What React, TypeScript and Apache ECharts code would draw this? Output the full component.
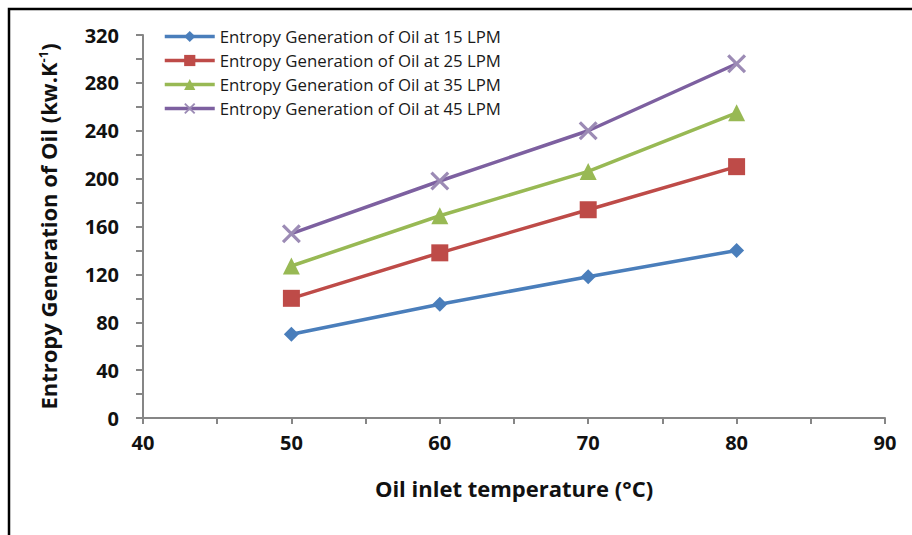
import React, { useEffect, useRef } from "react";
import * as echarts from "echarts";

const temperatures = [50, 60, 70, 80];
const seriesNames = [
  "Entropy Generation of Oil at 15 LPM",
  "Entropy Generation of Oil at 25 LPM",
  "Entropy Generation of Oil at 35 LPM",
  "Entropy Generation of Oil at 45 LPM",
];
const lpm15 = [70, 95, 118, 140];
const lpm25 = [100, 138, 174, 210];
const lpm35 = [127, 169, 206, 255];
const lpm45 = [154, 198, 240, 296];
const seriesValues = [lpm15, lpm25, lpm35, lpm45];
const colors = ["#4A7EBB", "#BE4B48", "#98B954", "#7D60A0"];
const markerColors = ["#4A7EBB", "#BE4B48", "#98B954", "#9C8BB5"];
const symbols = [
  "diamond",
  "rect",
  "triangle",
  "path://M0,1.2L1.2,0L10,8.8L8.8,10ZM8.8,0L10,1.2L1.2,10L0,8.8Z",
];
const symbolSizes = [15, 17, 17, 19];

export default function App() {
  const ref = useRef<HTMLDivElement>(null);
  useEffect(() => {
    if (!ref.current) return;
    const chart = echarts.init(ref.current, undefined, { renderer: "svg" });
    const font = "'Open Sans', Lato, sans-serif";
    chart.setOption({
      animation: false,
      backgroundColor: "#ffffff",
      textStyle: { fontFamily: font },
      graphic: [
        {
          type: "rect",
          shape: { x: 9, y: 9, width: 1000, height: 1000 },
          style: { fill: "none", stroke: "#000", lineWidth: 2.5 },
          silent: true,
        },
      ],
      legend: {
        left: 163,
        top: 28,
        padding: 0,
        orient: "vertical",
        itemWidth: 50,
        itemHeight: 14,
        itemGap: 7,
        lineStyle: { width: 3.5 },
        textStyle: { fontSize: 16.8, lineHeight: 14, color: "#1a1a1a", fontFamily: font },
        data: seriesNames,
      },
      grid: { left: 143, right: 27, top: 35, bottom: 117 },
      xAxis: {
        type: "value",
        min: 40,
        max: 90,
        interval: 10,
        name: "Oil inlet temperature (°C)",
        nameLocation: "middle",
        nameGap: 59,
        nameTextStyle: { fontSize: 22, fontWeight: "bold", color: "#111", fontFamily: font },
        axisLine: { lineStyle: { color: "#868686", width: 2 } },
        axisTick: { show: true, length: 6, lineStyle: { color: "#868686", width: 2 } },
        minorTick: { show: true, splitNumber: 2, length: 6, lineStyle: { color: "#868686", width: 2 } },
        splitLine: { show: false },
        axisLabel: { fontSize: 20, fontWeight: "bold", color: "#111", margin: 14, fontFamily: font },
      },
      yAxis: {
        type: "value",
        min: 0,
        max: 320,
        interval: 40,
        name: "Entropy Generation of Oil (kw.K{sup|-1})",
        nameLocation: "middle",
        nameGap: 84,
        nameTextStyle: {
          fontSize: 22,
          fontWeight: "bold",
          color: "#111",
          fontFamily: font,
          rich: {
            sup: { fontSize: 13, fontWeight: "bold", color: "#111", fontFamily: font, verticalAlign: "top", padding: [0, 0, 10, 0] },
          },
        },
        axisLine: { show: true, lineStyle: { color: "#868686", width: 2 } },
        axisTick: { show: true, length: 7, lineStyle: { color: "#868686", width: 2 } },
        minorTick: { show: true, splitNumber: 2, length: 7, lineStyle: { color: "#868686", width: 2 } },
        splitLine: { show: false },
        axisLabel: { fontSize: 20, fontWeight: "bold", color: "#111", margin: 24, fontFamily: font },
      },
      series: seriesNames.map((name, i) => ({
        name,
        type: "line",
        data: temperatures.map((t, j) => [t, seriesValues[i][j]]),
        symbol: symbols[i],
        symbolSize: symbolSizes[i],
        showAllSymbol: true,
        lineStyle: { color: colors[i], width: 3.5 },
        itemStyle: { color: markerColors[i] },
        emphasis: { disabled: true },
      })),
    });
    return () => chart.dispose();
  }, []);
  return (
    <div
      ref={ref}
      style={{ position: "fixed", left: 0, top: 0, width: 912, height: 535 }}
    />
  );
}
